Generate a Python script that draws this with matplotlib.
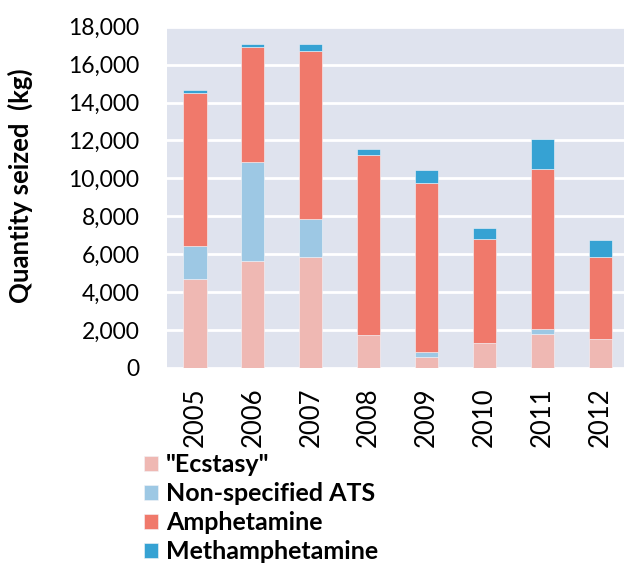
import matplotlib.pyplot as plt
import numpy as np
from matplotlib.ticker import FuncFormatter

plt.rcParams['font.family'] = ['Lato', 'DejaVu Sans']

years = ['2005', '2006', '2007', '2008', '2009', '2010', '2011', '2012']
ecstasy = [4700, 5620, 5840, 1740, 560, 1320, 1780, 1530]
non_specified = [1730, 5260, 2000, 0, 280, 0, 280, 0]
amphetamine = [8070, 6050, 8860, 9490, 8890, 5480, 8420, 4340]
methamphetamine = [140, 190, 370, 320, 690, 600, 1580, 860]

series = [('"Ecstasy"', ecstasy, '#efb8b3'),
          ('Non-specified ATS', non_specified, '#9dc8e4'),
          ('Amphetamine', amphetamine, '#f0796b'),
          ('Methamphetamine', methamphetamine, '#36a2d3')]

fig = plt.figure(figsize=(6.24, 5.71), dpi=100)
ax = fig.add_axes([0.268, 0.356, 0.732, 0.597])
ax.set_facecolor('#dfe3ee')

x = np.arange(len(years))
bottom = np.zeros(len(years))
handles = []
for label, vals, col in series:
    b = ax.bar(x, vals, width=0.4, bottom=bottom, color=col, label=label,
               edgecolor='#f4f4f8', linewidth=0.4, zorder=3)
    handles.append(b)
    bottom += np.array(vals)

ax.set_ylim(0, 18000)
ax.set_yticks(np.arange(0, 18001, 2000))
ax.yaxis.set_major_formatter(FuncFormatter(lambda v, p: f'{int(v):,}'))
ax.set_xlim(-0.48, 7.41)
ax.set_xticks(x)
ax.set_xticklabels(years, rotation=90)
ax.grid(axis='y', color='white', linewidth=2, zorder=1)
ax.tick_params(length=0)
ax.tick_params(axis='y', labelsize=16.5, pad=20)
ax.tick_params(axis='x', labelsize=18.5, pad=14)
for s in ax.spines.values():
    s.set_visible(False)
ax.set_ylabel('Quantity seized  (kg)', fontsize=18.5, fontweight='bold')
ax.yaxis.set_label_coords(-0.293, 0.533)

leg = fig.legend(handles=handles, loc='upper left', bbox_to_anchor=(0.2155, 0.224),
                 frameon=False, prop={'size': 18, 'weight': 'bold'},
                 handlelength=0.55, handleheight=0.55, handletextpad=0.3,
                 labelspacing=0.24, borderaxespad=0)

fig.savefig('out.png', dpi=100)
